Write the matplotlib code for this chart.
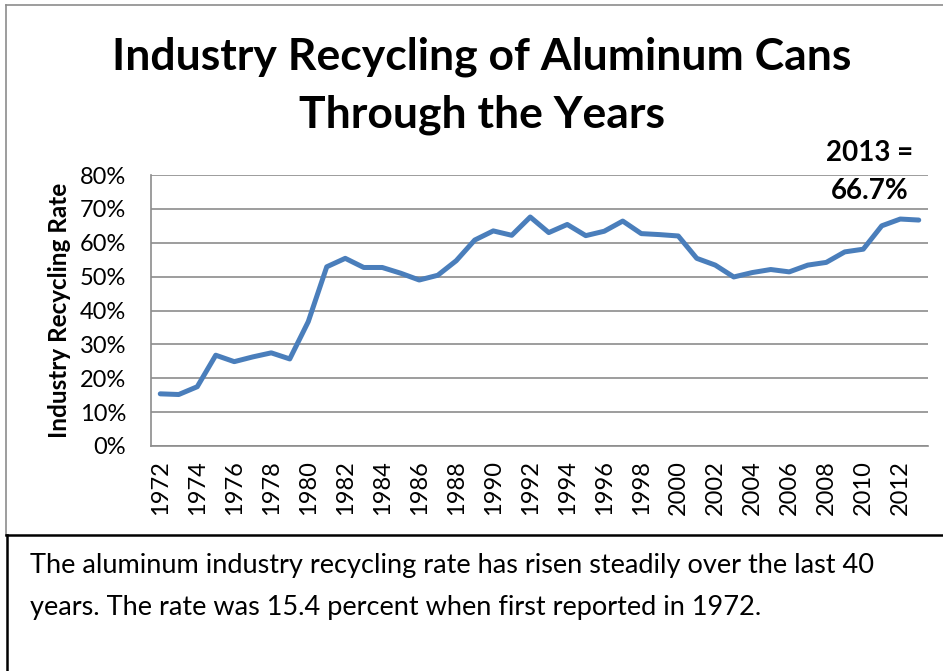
import numpy as np
import matplotlib.pyplot as plt
from matplotlib.lines import Line2D

years = list(range(1972, 2014))
rates = [15.4, 15.2, 17.5, 26.8, 24.9, 26.3, 27.5, 25.7, 36.7, 52.9,
         55.4, 52.7, 52.7, 51.0, 49.0, 50.4, 54.7, 60.8, 63.5, 62.2,
         67.6, 63.0, 65.4, 62.1, 63.4, 66.4, 62.7, 62.4, 62.0, 55.4,
         53.4, 49.9, 51.2, 52.1, 51.4, 53.4, 54.2, 57.3, 58.1, 65.0,
         67.0, 66.7]
y_ticks = [0, 10, 20, 30, 40, 50, 60, 70, 80]

plt.rcParams['font.family'] = ['Lato', 'DejaVu Sans']

W, H = 943, 671
fig = plt.figure(figsize=(W / 100, H / 100), dpi=100)

def px(x, y):
    return x / W, 1 - y / H

# plot area in pixels
left, right, top, bottom = 151, 928, 175, 446
ax = fig.add_axes([left / W, 1 - bottom / H, (right - left) / W, (bottom - top) / H])

x = np.arange(len(years))
ax.plot(x, np.array(rates) / 100, color='#4a7ebb', lw=3.6, solid_capstyle='round', solid_joinstyle='round')
ax.set_xlim(-0.5, len(years) - 0.5)
ax.set_ylim(0, 0.8)
ax.set_yticks(np.array(y_ticks) / 100)
ax.set_yticklabels([f"{t}%" for t in y_ticks], fontsize=17)
ax.set_xticks(x[::2])
ax.set_xticklabels([str(y) for y in years[::2]], rotation=90, fontsize=17)
ax.tick_params(length=0, pad=10)
ax.tick_params(axis='y', pad=18)
ax.grid(axis='y', color='#8c8c8c', lw=1.2)
ax.set_axisbelow(True)
for s in ['top', 'right']:
    ax.spines[s].set_visible(False)
for s in ['left', 'bottom']:
    ax.spines[s].set_color('#8c8c8c')
    ax.spines[s].set_linewidth(1.2)
ax.set_ylabel("Industry Recycling Rate", fontsize=17.5, fontweight='bold', labelpad=6)

fig.text(*px(482, 57), "Industry Recycling of Aluminum Cans", ha='center', va='center',
         fontsize=32, fontweight='bold')
fig.text(*px(482, 115), "Through the Years", ha='center', va='center',
         fontsize=32, fontweight='bold')
fig.text(*px(870, 153), "2013 =", ha='center', va='center', fontsize=20, fontweight='bold')
fig.text(*px(870, 191), "66.7%", ha='center', va='center', fontsize=20, fontweight='bold')

fig.text(*px(30, 566), "The aluminum industry recycling rate has risen steadily over the last 40",
         ha='left', va='center', fontsize=19.5)
fig.text(*px(30, 608), "years. The rate was 15.4 percent when first reported in 1972.",
         ha='left', va='center', fontsize=19.5)

# borders
fig.add_artist(Line2D([6 / W, 6 / W], [1 - 5 / H, 1 - 535 / H], color='#8c8c8c', lw=1.2))
fig.add_artist(Line2D([6 / W, 1], [1 - 5 / H, 1 - 5 / H], color='#8c8c8c', lw=1.2))
fig.add_artist(Line2D([6 / W, 1], [1 - 535 / H, 1 - 535 / H], color='black', lw=1.8))
fig.add_artist(Line2D([7 / W, 7 / W], [1 - 535 / H, 0], color='black', lw=1.8))

fig.savefig("out.png", dpi=100)
